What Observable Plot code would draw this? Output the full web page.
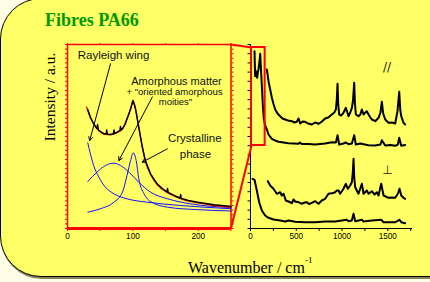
<!DOCTYPE html>
<html><head><meta charset="utf-8">
<script src="https://cdn.jsdelivr.net/npm/d3@7"></script>
<script src="https://cdn.jsdelivr.net/npm/@observablehq/plot@0.6"></script>
<style>
html,body{margin:0;padding:0;background:#fffde6;}
#wrap{position:relative;width:430px;height:282px;overflow:hidden;background:#fffde6;}
#panel{position:absolute;left:0;top:-2px;width:445px;height:279px;background:#ffff66;border:1px solid #000;border-radius:41px 0 0 41px;box-shadow:1px 2px 0 #85855a;box-sizing:border-box;}
.layer{position:absolute;left:0;top:0;width:430px;height:282px;}
#title{position:absolute;left:45px;top:11px;font:bold 18px "Liberation Serif","Times New Roman",serif;color:#009900;line-height:1;white-space:nowrap;}
#ytitle{position:absolute;left:49.5px;top:97px;transform:translate(-50%,-50%) rotate(-90deg);font:15.5px "Liberation Serif","Times New Roman",serif;line-height:1;white-space:nowrap;color:#000;}
#xtitle{position:absolute;left:188px;top:260px;font:16px "Liberation Serif","Times New Roman",serif;line-height:1;white-space:nowrap;color:#000;}
#xtitle sup{font-size:9px;vertical-align:10px;line-height:0;}
</style>
</head><body>
<div id="wrap">
  <div id="panel"></div>
  <div id="title">Fibres PA66</div>
  <div id="ytitle">Intensity / a.u.</div>
  <div id="xtitle">Wavenumber / cm<sup>-1</sup></div>
  <div id="mainLayer" class="layer"></div>
  <div id="insetLayer" class="layer"></div>
</div>
<script>
// ---------- data ----------
const yDomain = [0, 184];
const mainXDomain = [0, 1770];
const insetXDomain = [0, 250];
const mainXTicks = [0, 250, 500, 750, 1000, 1250, 1500, 1750];
const mainXTickLabels = [0, 500, 1000, 1500];
const mainYTicks = d3.range(0, 185, 9.2);
const insetXTicks = [0, 50, 100, 150, 200, 250];
const insetXTickLabels = [0, 100, 200];
const insetEdgeTicks = d3.range(0, 185, 4.6);

// main spectra: [wavenumber, intensity]
const paraTop = [[179,159],[197,147.3],[215,139],[233,131],[250,125],[270,119],[295,115],[324,112.3],[350,110],[379,109],[410,108],[452,107.3],[480,106],[506,106.7],[525,110],[543,105],[570,107],[597,106.7],[630,105],[670,104],[705,106],[743,104.7],[780,107],[816,110],[850,111],[889,114],[915,116],[933,119],[942,128],[951,144.7],[958,125],[969,114],[990,113],[1016,115.7],[1042,120.7],[1058,116],[1071,112.3],[1090,116],[1108,120.7],[1120,128],[1133,145.7],[1141,125],[1151,114],[1180,112.3],[1200,114],[1217,119],[1235,114],[1255,116],[1271,117.3],[1290,114],[1310,111],[1326,109],[1363,107.3],[1399,110.7],[1420,116],[1435,126.7],[1450,115],[1472,109],[1508,105.7],[1545,106],[1581,105],[1606,117.3],[1625,136.7],[1637,118],[1647,112.3],[1672,105.7],[1690,104]];
const paraBottom = [[44,177.3],[47,165],[51,152.3],[55,158],[62,155.7],[67,153],[73,150.7],[80,156],[87,159],[97,166],[106,174.7],[115,158],[124,143],[135,123],[145,110],[160,103],[179,99],[197,94],[233,89.7],[270,88],[306,86.7],[360,86],[415,85.3],[470,85],[525,84.7],[540,86],[560,84.5],[630,84.5],[707,84],[760,84.5],[816,85],[889,86.3],[933,86],[951,93.3],[969,84],[1016,85],[1042,86],[1071,84.3],[1108,85],[1133,93.3],[1151,84],[1200,85],[1235,84.3],[1290,83.3],[1363,83],[1420,84],[1435,88.3],[1472,83],[1530,83.5],[1581,82.7],[1610,84],[1625,90.7],[1647,82.7],[1690,83.5]];
const perpTop = [[189,47.3],[215,43],[251,39.7],[288,34.7],[324,36.3],[342,33],[361,34.7],[386,28],[415,27],[452,25.3],[470,29],[488,27],[525,26.3],[561,24.7],[590,26],[616,26.3],[640,24.5],[670,25.7],[707,27.3],[743,24.7],[779,28],[816,29.7],[852,34.7],[889,35.3],[920,36],[943,38],[962,38],[980,34.7],[1016,39.7],[1042,44.7],[1064,39.7],[1089,43],[1107,46.3],[1117,55],[1126,69.7],[1134,50],[1144,41.3],[1180,34.7],[1217,44.7],[1235,34.7],[1271,38],[1290,34.7],[1326,37.3],[1355,34],[1381,36.3],[1399,33],[1428,44.7],[1454,33],[1508,30.7],[1545,31],[1581,30.7],[1610,34.7],[1628,39.7],[1647,33],[1672,30.7],[1690,29.7]];
const perpBottom = [[22,49.7],[44,48.7],[69,38],[95,26.3],[124,18],[160,13],[197,10.7],[251,9],[324,8],[379,7],[415,8],[488,6.7],[597,6.3],[707,6.3],[816,7],[925,7],[1000,8],[1053,8.7],[1071,7.3],[1107,8],[1126,14.7],[1144,7.3],[1217,8.7],[1235,7],[1326,8],[1428,8.7],[1454,6.3],[1581,6.3],[1628,8.7],[1647,6.3],[1690,5.3]];
const zoomBox = [{x1: 11, x2: 160, y1: 83, y2: 181}];
const seriesLabels = [
  {label: "//", wn: 1492, I: 157.3, italic: true},
  {label: "\u22a5", wn: 1497, I: 54.5, italic: false}
];

// inset: [wavenumber, intensity]
const insetMeasured = [[31,119],[35,111.3],[40,104.7],[45,100],[46,104],[47,99.5],[48,98],[56,94.7],[59,94.5],[60,98.5],[61,94.2],[66,94],[70,94.5],[71,98.5],[72,95],[76,96.3],[80,98],[81,102],[82,98.5],[84,99.7],[88,104],[91,109.7],[94,115],[96.5,119.7],[98.5,124],[100,128],[102,124.5],[104,119.7],[109,101.3],[114,83],[119,68],[127,54.7],[137,44.7],[145,40],[152,36.7],[153,40],[154,36.2],[165,32.5],[172,30.5],[173,34],[174,30.2],[185,28],[199,26.3],[224,23.7],[247,22.3],[250,22]];
const insetFit = [[29,121.5],[35,111],[40,104.5],[48,97.8],[56,94.5],[66,93.8],[76,96],[84,99.5],[91,109.5],[96.5,119.5],[100,127.5],[104,119.5],[109,101],[114,82.5],[119,67.5],[127,54],[137,44],[152,36],[165,31.8],[185,27.3],[199,25.6],[224,23],[250,21.4]];
const rayleigh = [[31,85.7],[35,74.7],[40,63],[48,51.3],[58,41.3],[71,34.7],[91,29.7],[122,26.3],[173,23],[250,19.8]];
const amorphous = [[31,47],[45,56.3],[58,63],[71,65.3],[81,63],[94,56.3],[109,46.3],[127,36.3],[153,29.7],[188,24.7],[250,21]];
const crystalline = [[31,16.3],[50,19.7],[71,26.3],[84,36.3],[91,53],[96.5,68],[100.5,75.7],[105,68],[109,49.7],[117,34.7],[127,27],[153,21.3],[200,18.8],[250,17.5]];
const annotations = [
  {text: "Rayleigh wing", wn: 70.3, I: 169.7, size: 11.5},
  {text: "Amorphous matter", wn: 166.7, I: 144, size: 11},
  {text: "+ \"oriented amorphous", wn: 163.6, I: 133.3, size: 9.5},
  {text: "moities\"", wn: 165.1, I: 123.8, size: 9.5},
  {text: "Crystalline", wn: 194.6, I: 86.3, size: 11.5},
  {text: "phase", wn: 195.7, I: 70.7, size: 11.5}
];
const arrows = [
  {x1: 65.8, y1: 164.7, x2: 34, y2: 88},
  {x1: 129.7, y1: 131.5, x2: 78.6, y2: 68},
  {x1: 152.7, y1: 79.7, x2: 114.4, y2: 66.3}
];

// ---------- layout ----------
const W = 430, H = 282;
const mainMargins = {marginLeft: 250, marginRight: 18, marginTop: 44, marginBottom: 54};
const insetMargins = {marginLeft: 67, marginRight: 199.5, marginTop: 44, marginBottom: 54};
const sans = "'Liberation Sans', Arial, sans-serif";
const X = d => d[0], Y = d => d[1];

function insetPlot() {
  return Plot.plot({
    width: W, height: H, ...insetMargins,
    style: {background: "transparent", fontFamily: sans, fontSize: "8.2px", color: "#000", overflow: "visible"},
    x: {domain: insetXDomain},
    y: {domain: yDomain},
    marks: [
      Plot.axisY({anchor: "left", ticks: insetEdgeTicks, tickSize: 2, tickFormat: () => "", stroke: "red", label: null}),
      Plot.axisY({anchor: "right", ticks: insetEdgeTicks, tickSize: 2, tickFormat: () => "", stroke: "red", label: null}),
      Plot.axisX({anchor: "top", ticks: insetXTicks, tickSize: 2, tickFormat: () => "", stroke: "red", label: null}),
      Plot.axisX({anchor: "bottom", ticks: insetXTicks, tickSize: 3, tickPadding: 2,
        tickFormat: d => insetXTickLabels.includes(d) ? String(d) : "", stroke: "red", fill: "#000", label: null}),
      Plot.frame({stroke: "red", strokeWidth: 1.5}),
      Plot.ruleY([0], {stroke: "red", strokeWidth: 3}),
      Plot.line(rayleigh, {x: X, y: Y, stroke: "#1010ff", strokeWidth: 1, curve: "monotone-x"}),
      Plot.line(amorphous, {x: X, y: Y, stroke: "#1010ff", strokeWidth: 1, curve: "monotone-x"}),
      Plot.line(crystalline, {x: X, y: Y, stroke: "#1010ff", strokeWidth: 1, curve: "monotone-x"}),
      Plot.line(insetFit, {x: X, y: Y, stroke: "red", strokeWidth: 1.3, curve: "monotone-x"}),
      Plot.line(insetMeasured, {x: X, y: Y, stroke: "#000", strokeWidth: 1.4, curve: "linear"}),
      Plot.arrow(arrows, {x1: "x1", y1: "y1", x2: "x2", y2: "y2", stroke: "#000", strokeWidth: 1, headLength: 6}),
      Plot.text(annotations, {x: "wn", y: "I", text: "text", fontSize: d => d.size, textAnchor: "middle", lineAnchor: "bottom", fill: "#111"})
    ]
  });
}

function mainPlot(extra) {
  return Plot.plot({
    width: W, height: H, ...mainMargins,
    style: {background: "transparent", fontFamily: sans, fontSize: "8.2px", color: "#000", overflow: "visible"},
    x: {domain: mainXDomain},
    y: {domain: yDomain},
    marks: [
      Plot.axisY({anchor: "left", ticks: mainYTicks, tickSize: 2.5, tickFormat: () => "", stroke: "#000", label: null}),
      Plot.axisX({anchor: "bottom", ticks: mainXTicks, tickSize: 3, tickPadding: 2,
        tickFormat: d => mainXTickLabels.includes(d) ? String(d) : "", stroke: "#000", fill: "#000", label: null}),
      Plot.ruleX([0], {stroke: "#000", strokeWidth: 1}),
      Plot.ruleY([0], {stroke: "#000", strokeWidth: 1}),
      ...extra,
      Plot.line(paraTop, {x: X, y: Y, stroke: "#000", strokeWidth: 2, strokeLinejoin: "round"}),
      Plot.line(paraBottom, {x: X, y: Y, stroke: "#000", strokeWidth: 2, strokeLinejoin: "round"}),
      Plot.line(perpTop, {x: X, y: Y, stroke: "#000", strokeWidth: 2, strokeLinejoin: "round"}),
      Plot.line(perpBottom, {x: X, y: Y, stroke: "#000", strokeWidth: 2, strokeLinejoin: "round"}),
      Plot.rect(zoomBox, {x1: "x1", x2: "x2", y1: "y1", y2: "y2", fill: "none", stroke: "red", strokeWidth: 2}),
      Plot.text(seriesLabels, {x: "wn", y: "I", text: "label", fontSize: 12, fontStyle: d => d.italic ? "italic" : "normal",
        fontFamily: "'DejaVu Sans', sans-serif", textAnchor: "middle", lineAnchor: "bottom", fill: "#222"})
    ]
  });
}

const inset = insetPlot();
const ix = inset.scale("x");
const mx = mainPlot([]).scale("x");
const cornerX = mx.invert(ix.apply(insetXDomain[1]));
const connectors = [
  {x1: cornerX, y1: yDomain[1], x2: zoomBox[0].x1, y2: zoomBox[0].y2},
  {x1: cornerX, y1: yDomain[0], x2: zoomBox[0].x1, y2: zoomBox[0].y1}
];
const main = mainPlot([
  Plot.link(connectors, {x1: "x1", y1: "y1", x2: "x2", y2: "y2", stroke: "red", strokeWidth: 2})
]);
document.getElementById("mainLayer").appendChild(main);
document.getElementById("insetLayer").appendChild(inset);
</script>
</body></html>
